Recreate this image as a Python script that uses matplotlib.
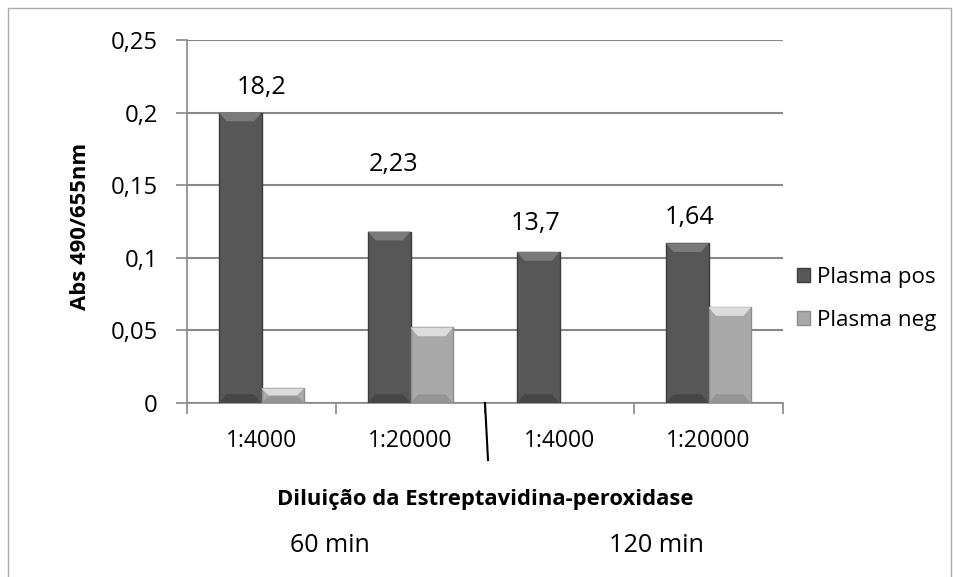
import matplotlib
matplotlib.use('Agg')
from matplotlib import pyplot as plt
import numpy as np

plt.rcParams['font.family'] = ['Open Sans', 'DejaVu Sans']

# dados
categorias = ['1:4000', '1:20000', '1:4000', '1:20000']
plasma_pos = [0.200, 0.118, 0.104, 0.110]
plasma_neg = [0.010, 0.052, 0.0, 0.066]
rotulos = ['18,2', '2,23', '13,7', '1,64']
rotulo_y = [0.2176, 0.1646, 0.1233, 0.128]   # altura dos rótulos
rotulo_dx = [0.0, -0.117, -0.158, -0.124]    # posição em relação ao centro da categoria
yticks = [0, 0.05, 0.1, 0.15, 0.2, 0.25]
ytick_labels = ['0', '0,05', '0,1', '0,15', '0,2', '0,25']
tempos = ['60 min', '120 min']

W, H = 954, 577
fig = plt.figure(figsize=(W/100, H/100), dpi=100)
ax = fig.add_axes([187/W, 1-403/H, (783-187)/W, (403-40)/H])
r = fig.canvas.get_renderer()

def ajusta(t, largura, girado=False):  # muda o tamanho da fonte para a largura desejada (px)
    bb = t.get_window_extent(renderer=r)
    med = bb.height if girado else bb.width
    t.set_fontsize(t.get_fontsize() * largura / med)

x = np.arange(len(categorias))
w = 0.285
b1 = ax.bar(x - w/2, plasma_pos, w, color='#575757', edgecolor='#3c3c3c', linewidth=1, label='Plasma pos', zorder=3)
b2 = ax.bar(x + w/2, plasma_neg, w, color='#a9a9a9', edgecolor='#8c8c8c', linewidth=1, label='Plasma neg', zorder=3)

# efeito de chanfro no topo e na base das barras
dx, dy = 0.05, 0.006
for barras, claro, escuro in [(b1, '#7a7a7a', '#464646'), (b2, '#dcdcdc', '#959595')]:
    for p in barras.patches:
        x0, bw, h = p.get_x(), p.get_width(), p.get_height()
        if h <= 0:
            continue
        e = min(dy, h/2)
        ax.fill([x0, x0+bw, x0+bw-dx, x0+dx], [h, h, h-e, h-e], color=claro, lw=0, zorder=4)
        ax.fill([x0, x0+bw, x0+bw-dx, x0+dx], [0, 0, e, e], color=escuro, lw=0, zorder=4)

for i, t in enumerate(rotulos):
    tx = ax.text(x[i] + rotulo_dx[i], rotulo_y[i], t, ha='center', va='center', fontsize=16)
    ajusta(tx, 50)

ax.set_xlim(-0.5, 3.5)
ax.set_ylim(0, 0.25)
ax.set_yticks(yticks)
ax.set_yticklabels(ytick_labels, fontsize=16)
ax.yaxis.grid(True, color='#888888', linewidth=1.5, zorder=0)
ax.set_xticks(x)
ax.set_xticklabels(categorias, fontsize=16)
ax.set_xticks([-0.5, 0.5, 1.5, 2.5, 3.5], minor=True)
ax.tick_params(axis='x', which='major', length=0, pad=19)
ax.tick_params(axis='x', which='minor', length=8, color='#888888', width=1.2)
ax.tick_params(axis='y', length=8, color='#888888', width=1.2, pad=13)
for s in ['top', 'right']:
    ax.spines[s].set_visible(False)
for s in ['left', 'bottom']:
    ax.spines[s].set_color('#888888')
    ax.spines[s].set_linewidth(1.2)

# tamanhos das fontes dos eixos
fig.canvas.draw()
fy = ax.get_yticklabels()[-1]
ajusta(fy, 47)
for t in ax.get_yticklabels():
    t.set_fontsize(fy.get_fontsize())
fx = ax.get_xticklabels()[1]
ajusta(fx, 85)
for t in ax.get_xticklabels():
    t.set_fontsize(fx.get_fontsize())

yl = fig.text(80/W, 1-226/H, 'Abs 490/655nm', rotation=90, ha='center', va='center', fontsize=14, fontweight='bold')
ajusta(yl, 168, girado=True)

xl = fig.text(485/W, 1-500/H, 'Diluição da Estreptavidina-peroxidase', ha='center', va='center', fontsize=16, fontweight='bold')
ajusta(xl, 416)
t1 = fig.text(330/W, 1-545/H, tempos[0], ha='center', va='center', fontsize=16)
ajusta(t1, 80)
t2 = fig.text(656/W, 1-545/H, tempos[1], ha='center', va='center', fontsize=16)
ajusta(t2, 95)

# linha separando os tempos
fig.add_artist(plt.Line2D([485/W, 488/W], [1-403/H, 1-460/H], color='black', linewidth=1.5))

# moldura
fig.add_artist(plt.Rectangle((8/W, -0.01), (951-8)/W, 1-8/H+0.01, fill=False, edgecolor='#aaaaaa', linewidth=1))

leg = fig.legend(handles=[b1, b2], loc='center left', bbox_to_anchor=(797/W, 1-299/H), frameon=False,
                 borderpad=0, borderaxespad=0, fontsize=16, handlelength=0.6, handleheight=0.6,
                 handletextpad=0.3, labelspacing=1.0)
ajusta(leg.get_texts()[0], 119)
leg.get_texts()[1].set_fontsize(leg.get_texts()[0].get_fontsize())

plt.savefig('out.png', dpi=100)
